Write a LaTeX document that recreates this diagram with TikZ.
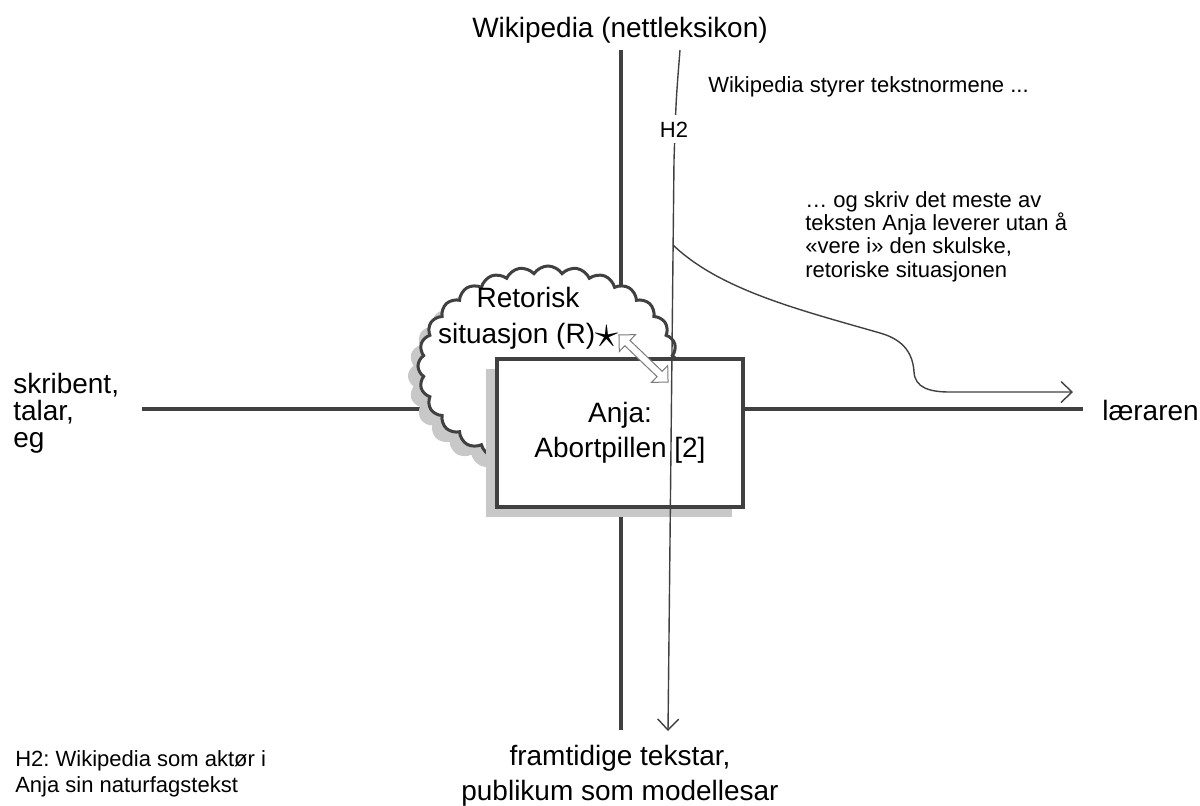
\documentclass[tikz,border=0pt]{standalone}
\usepackage{fontspec}
\setmainfont{Liberation Sans}
\usetikzlibrary{arrows.meta,shapes.symbols,shapes.arrows,shadows}
\definecolor{linegray}{HTML}{404040}
\definecolor{shadegray}{HTML}{C8C8C8}
\definecolor{arrowgray}{HTML}{7A7A7A}
\frenchspacing

\begin{document}
\begin{tikzpicture}[x=0.025cm, y=-0.025cm,
    axis/.style={line width=1mm, draw=linegray},
    thinarrow/.style={line width=0.35mm, draw=linegray, -{Straight Barb[length=2.75mm, width=5.25mm]}},
    labelbig/.style={inner sep=0pt, font=\fontsize{19.9}{24.9}\selectfont},
    labelsmall/.style={inner sep=0pt, font=\fontsize{15.65}{16.5}\selectfont},
    greyshadow/.style={drop shadow={shadow xshift=-2.5mm, shadow yshift=-2.5mm, fill=shadegray, opacity=1}}]
    \useasboundingbox (0,0) rectangle (1200,805);
    % Draw the two axes
    \coordinate (vtop) at (621,50);
    \coordinate (vbot) at (621,730);
    \coordinate (hleft) at (142,409);
    \coordinate (hright) at (1083,409);
    \draw[axis] (vtop) -- (vbot);
    \draw[axis] (hleft) -- (hright);
    % Cloud for the rhetorical situation
    \node[cloud, cloud puffs=28, cloud puff arc=115, cloud ignores aspect,
          minimum width=65mm, minimum height=50mm, draw=linegray,
          line width=0.75mm, fill=white, greyshadow] (rs) at (548,366) {};
    % Text box
    \node[draw=linegray, line width=1mm, fill=white, minimum width=61.5mm,
          minimum height=37mm, font=\fontsize{19.9}{24.9}\selectfont, align=center,
          drop shadow={shadow xshift=-2.75mm, shadow yshift=-2.5mm, fill=shadegray, opacity=1}]
          (anja) at (620,433) {Anja:\\Abortpillen [2]};
    \node[labelbig, anchor=base, align=center] (rstext) at (528,343)
        {Retorisk\\situasjon (R)\raisebox{-1mm}{\scalebox{1.6}{$\star$}}};
    % Double arrow between cloud and box
    \coordinate (dblA) at (619,335);
    \coordinate (dblB) at (668,382);
    \path (dblA) -- (dblB) node[midway, sloped, double arrow, draw=arrowgray, fill=white,
          line width=0.25mm, minimum height=17mm, inner sep=0.8mm,
          double arrow head extend=2mm] (dbl) {};
    % H2 line and the curve to the teacher
    \coordinate (h2top) at (680,50);
    \coordinate (h2end) at (668,731);
    \coordinate (turn) at (673,245);
    \coordinate (toteacher) at (1073,392);
    \draw[thinarrow] (h2top) .. controls (676,100) .. (674,160) -- (h2end);
    \node[labelsmall, fill=white, inner ysep=1.6mm, inner xsep=0.3mm, anchor=base] (h2) at (674,137) {H2};
    \draw[thinarrow] (turn) .. controls (720,290) and (800,310) .. (880,333)
        .. controls (905,340) and (913,355) .. (914,372)
        .. controls (915,388) and (930,392) .. (950,392) -- (toteacher);
    % Labels
    \node[labelbig, anchor=base] (wiki) at (620,37) {Wikipedia (nettleksikon)};
    \node[labelbig, anchor=base, align=center] (future) at (620,800) {framtidige tekstar,\\publikum som modellesar};
    \node[labelbig, anchor=base west, align=left, font=\fontsize{19.9}{19.2}\selectfont] (writer) at (13,447) {skribent,\\talar,\\eg};
    \node[labelbig, anchor=base west] (teacher) at (1102,420) {læraren};
    \node[labelsmall, anchor=base west] (norms) at (708,92) {Wikipedia styrer tekstnormene ...};
    \node[labelsmall, anchor=base west, align=left] (write) at (805,277)
        {… og skriv det meste av\\teksten Anja leverer utan å\\«vere i» den skulske,\\retoriske situasjonen};
    \node[labelsmall, anchor=base west, align=left, font=\fontsize{15.65}{18.5}\selectfont] (note) at (15,792)
        {H2: Wikipedia som aktør i\\Anja sin naturfagstekst};
\end{tikzpicture}
\end{document}
